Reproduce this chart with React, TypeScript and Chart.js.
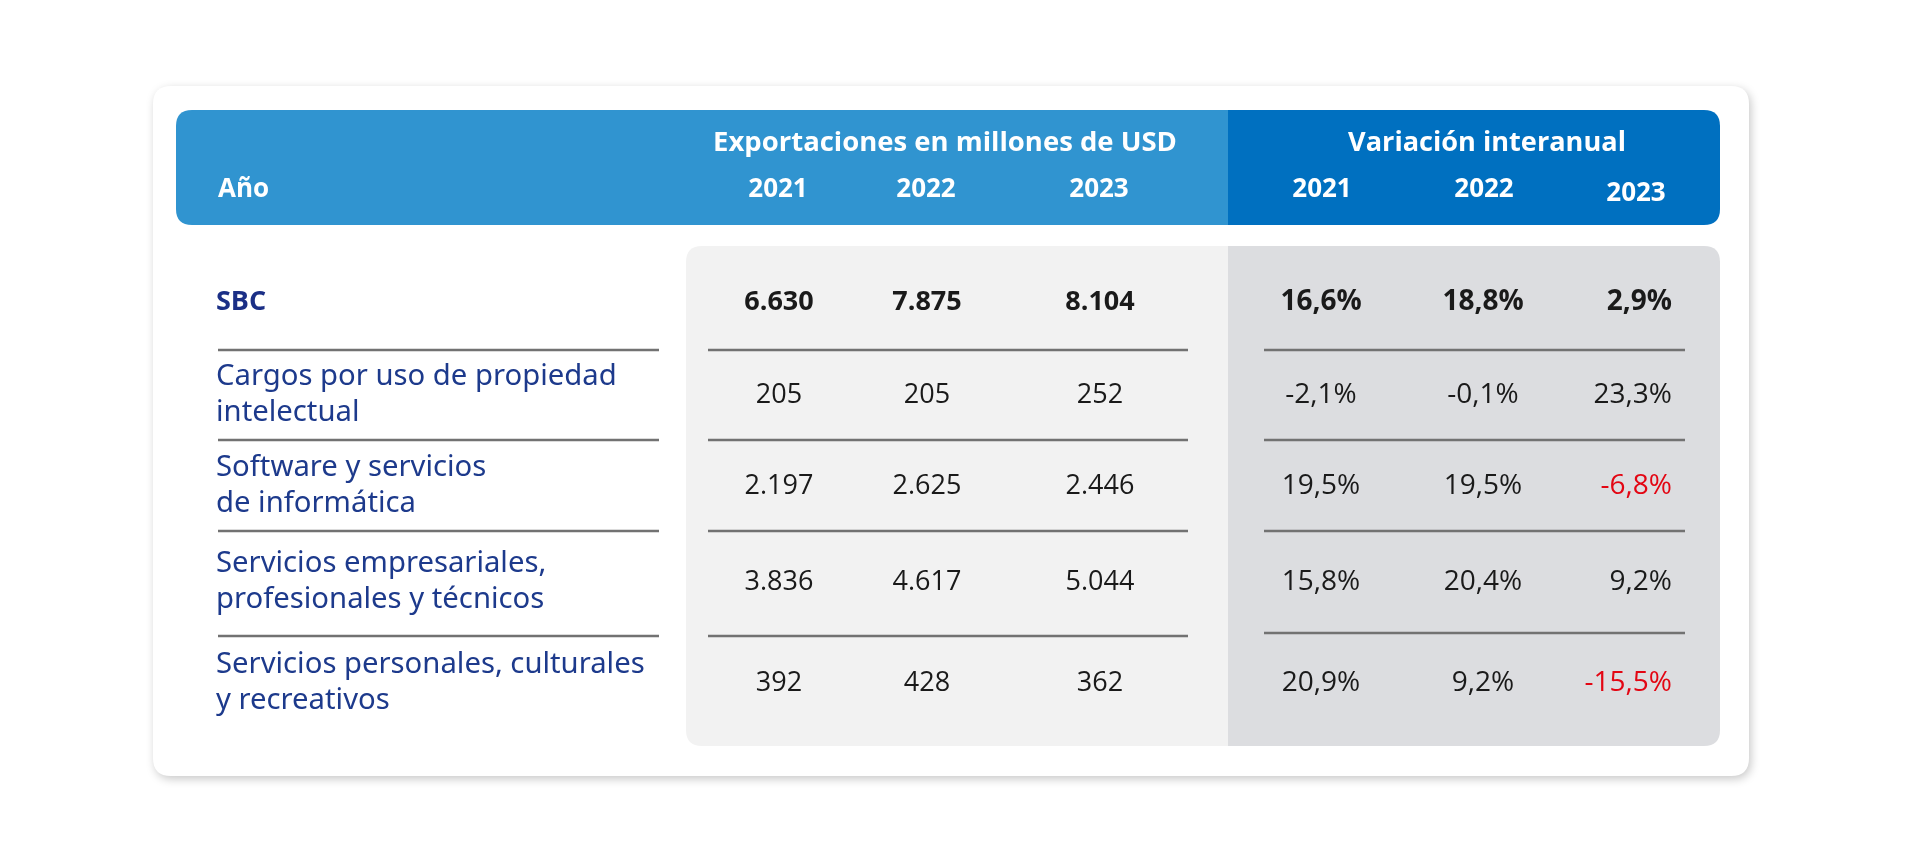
import React, { useEffect, useRef } from "react";
import { Chart, registerables } from "chart.js";

Chart.register(...registerables);

// ---------- DATA ----------
const rowLabels: string[][] = [
  ["SBC"],
  ["Cargos por uso de propiedad", "intelectual"],
  ["Software y servicios", "de informática"],
  ["Servicios empresariales,", "profesionales y técnicos"],
  ["Servicios personales, culturales", "y recreativos"],
];
const years = ["2021", "2022", "2023"];
const exports2021 = [6630, 205, 2197, 3836, 392];
const exports2022 = [7875, 205, 2625, 4617, 428];
const exports2023 = [8104, 252, 2446, 5044, 362];
const var2021 = [16.6, -2.1, 19.5, 15.8, 20.9];
const var2022 = [18.8, -0.1, 19.5, 20.4, 9.2];
const var2023 = [2.9, 23.3, -6.8, 9.2, -15.5];
const headerExports = "Exportaciones en millones de USD";
const headerVariation = "Variación interanual";
const headerFirstCol = "Año";

// ---------- LAYOUT (scale units = px of a 1920x850 frame) ----------
const rowY = [302, 395, 486, 582, 683];
const sepY = [350, 440, 531, 636];
const colXExports = [779, 927, 1100];
const colXVar = [1321, 1483, 1672];
const labelX = 218;

const fmtInt = (v: number) => v.toString().replace(/\B(?=(\d{3})+(?!\d))/g, ".");
const fmtPct = (v: number) => v.toFixed(1).replace(".", ",") + "%";

function roundRect(ctx: CanvasRenderingContext2D, x: number, y: number, w: number, h: number, r: number) {
  ctx.beginPath();
  ctx.moveTo(x + r, y);
  ctx.lineTo(x + w - r, y);
  ctx.quadraticCurveTo(x + w, y, x + w, y + r);
  ctx.lineTo(x + w, y + h - r);
  ctx.quadraticCurveTo(x + w, y + h, x + w - r, y + h);
  ctx.lineTo(x + r, y + h);
  ctx.quadraticCurveTo(x, y + h, x, y + h - r);
  ctx.lineTo(x, y + r);
  ctx.quadraticCurveTo(x, y, x + r, y);
  ctx.closePath();
}

function fitSize(ctx: CanvasRenderingContext2D, text: string, weight: string, family: string, target: number) {
  ctx.font = `${weight} 100px ${family}`;
  const w = ctx.measureText(text).width;
  return (100 * target) / w;
}

const HEAD_FAMILY = "'Open Sans'";
const LABEL_FAMILY = "'Noto Sans'";
const NUM_FAMILY = "'Open Sans'";

const tablePlugin = {
  id: "tablePlugin",
  beforeDatasetsDraw(chart: any) {
    const ctx: CanvasRenderingContext2D = chart.ctx;
    const xs = chart.scales.x;
    const ys = chart.scales.y;
    const X = (v: number) => xs.getPixelForValue(v);
    const Y = (v: number) => ys.getPixelForValue(v);
    ctx.save();
    // card
    ctx.shadowColor = "rgba(0,0,0,0.22)";
    ctx.shadowBlur = 10;
    ctx.shadowOffsetX = 2;
    ctx.shadowOffsetY = 3;
    ctx.fillStyle = "#ffffff";
    roundRect(ctx, X(153), Y(86), X(1749) - X(153), Y(776) - Y(86), 18);
    ctx.fill();
    ctx.restore();

    // header band
    ctx.save();
    roundRect(ctx, X(176), Y(110), X(1720) - X(176), Y(225) - Y(110), 16);
    ctx.clip();
    ctx.fillStyle = "#3094d0";
    ctx.fillRect(X(176), Y(110), X(1228) - X(176), Y(225) - Y(110));
    ctx.fillStyle = "#0070c0";
    ctx.fillRect(X(1228), Y(110), X(1720) - X(1228), Y(225) - Y(110));
    ctx.restore();

    // gray panel
    ctx.save();
    roundRect(ctx, X(686), Y(246), X(1720) - X(686), Y(746) - Y(246), 16);
    ctx.clip();
    ctx.fillStyle = "#f2f2f2";
    ctx.fillRect(X(686), Y(246), X(1228) - X(686), Y(746) - Y(246));
    ctx.fillStyle = "#dcdde0";
    ctx.fillRect(X(1228), Y(246), X(1720) - X(1228), Y(746) - Y(246));
    ctx.restore();

    // separators
    ctx.save();
    ctx.strokeStyle = "#727272";
    ctx.lineWidth = 2.5;
    const segs = [[218, 659], [708, 1188], [1264, 1685]];
    sepY.forEach((y, i) => {
      segs.forEach(([a, b], j) => {
        const yy = j === 2 && i === sepY.length - 1 ? y - 3 : y;
        ctx.beginPath();
        ctx.moveTo(X(a), Y(yy));
        ctx.lineTo(X(b), Y(yy));
        ctx.stroke();
      });
    });
    ctx.restore();

    // header texts
    ctx.save();
    ctx.fillStyle = "#ffffff";
    ctx.textBaseline = "middle";
    const titleSize = fitSize(ctx, headerExports, "bold", HEAD_FAMILY, 464);
    const titleSize2 = fitSize(ctx, headerVariation, "bold", HEAD_FAMILY, 278);
    ctx.textAlign = "center";
    ctx.font = `bold ${titleSize}px ${HEAD_FAMILY}`;
    ctx.fillText(headerExports, X(945), Y(143));
    ctx.font = `bold ${titleSize2}px ${HEAD_FAMILY}`;
    ctx.fillText(headerVariation, X(1487), Y(143));
    ctx.font = `bold 26px ${HEAD_FAMILY}`;
    ctx.textAlign = "left";
    ctx.fillText(headerFirstCol, X(labelX), Y(190));
    ctx.textAlign = "center";
    years.forEach((yr, i) => ctx.fillText(yr, X(colXExports[i] - 1), Y(190)));
    const vx = [1322, 1484, 1636];
    years.forEach((yr, i) => ctx.fillText(yr, X(vx[i]), Y(i === 2 ? 194 : 190)));
    ctx.restore();

    // row labels
    ctx.save();
    ctx.textBaseline = "middle";
    ctx.textAlign = "left";
    const labelSize = fitSize(ctx, rowLabels[4][0], "normal", LABEL_FAMILY, 429);
    rowLabels.forEach((lines, r) => {
      if (r === 0) {
        ctx.font = `bold 27px ${HEAD_FAMILY}`;
        ctx.fillStyle = "#1b2f86";
      } else {
        ctx.font = `normal ${labelSize}px ${LABEL_FAMILY}`;
        ctx.fillStyle = "#1d3a8c";
      }
      const n = lines.length;
      lines.forEach((ln, k) => {
        const off = (k - (n - 1) / 2) * 36;
        ctx.fillText(ln, X(labelX - 2), Y(rowY[r] + off));
      });
    });
    ctx.restore();
  },
  afterDatasetsDraw(chart: any) {
    const ctx: CanvasRenderingContext2D = chart.ctx;
    ctx.save();
    ctx.textBaseline = "middle";
    chart.data.datasets.forEach((ds: any, di: number) => {
      const meta = chart.getDatasetMeta(di);
      meta.data.forEach((pt: any, i: number) => {
        const v = ds.values[i];
        const bold = i === 0;
        const size = ds.kind === "pct" ? 28 : 27;
        ctx.font = (bold ? "bold " : "") + `${size}px ${NUM_FAMILY}`;
        ctx.fillStyle = ds.kind === "pct" && ds.highlightNegative && v < 0 ? "#e30613" : "#1a1a1a";
        ctx.textAlign = ds.align;
        const txt = ds.kind === "pct" ? fmtPct(v) : fmtInt(v);
        ctx.fillText(txt, pt.x, pt.y);
      });
    });
    ctx.restore();
  },
};

function cellDataset(values: number[], x: number, kind: string, align: string, highlightNegative = false) {
  return {
    label: kind + x,
    data: values.map((_, i) => ({ x, y: rowY[i] })),
    values,
    kind,
    align,
    highlightNegative,
    pointRadius: 0,
    showLine: false,
  };
}

export default function App() {
  const ref = useRef<HTMLCanvasElement | null>(null);
  useEffect(() => {
    document.body.style.margin = "0";
    const canvas = ref.current!;
    const chart = new Chart(canvas, {
      type: "scatter",
      data: {
        datasets: [
          cellDataset(exports2021, colXExports[0], "int", "center"),
          cellDataset(exports2022, colXExports[1], "int", "center"),
          cellDataset(exports2023, colXExports[2], "int", "center"),
          cellDataset(var2021, colXVar[0], "pct", "center"),
          cellDataset(var2022, colXVar[1], "pct", "center"),
          cellDataset(var2023, colXVar[2], "pct", "right", true),
        ] as any,
      },
      options: {
        animation: false,
        responsive: false,
        devicePixelRatio: 1,
        layout: { padding: 0 },
        plugins: { legend: { display: false }, tooltip: { enabled: false } },
        events: [],
        scales: {
          x: { type: "linear", min: 0, max: 1920, display: false },
          y: { type: "linear", min: 0, max: 850, reverse: true, display: false },
        },
      },
      plugins: [tablePlugin],
    });
    return () => chart.destroy();
  }, []);
  return (
    <div style={{ position: "absolute", left: 0, top: 0, width: 1920, height: 850, background: "#ffffff" }}>
      <canvas ref={ref} width={1920} height={850} style={{ width: 1920, height: 850, display: "block" }} />
    </div>
  );
}
